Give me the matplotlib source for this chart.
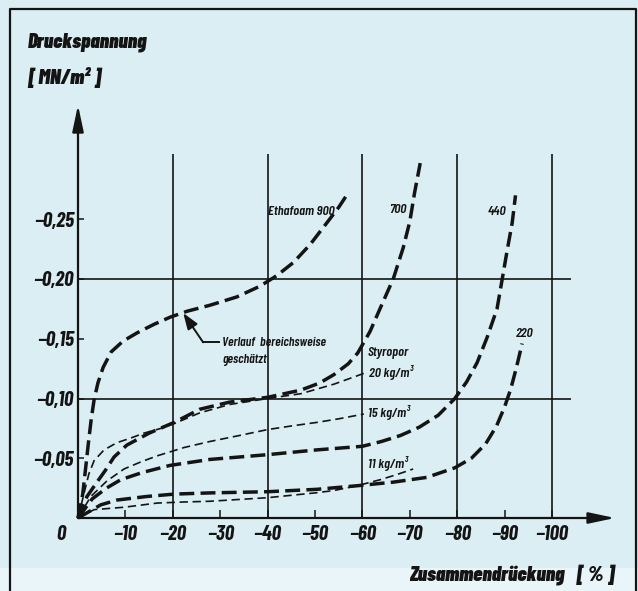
import matplotlib
matplotlib.use('Agg')
import matplotlib.pyplot as plt
from matplotlib import font_manager

# ---------------- data ----------------
x_ticks = [-10, -20, -30, -40, -50, -60, -70, -80, -90, -100]
x_tick_labels = ['−10', '−20', '−30', '−40', '−50', '−60', '−70', '−80', '−90', '−100']
y_ticks = [-0.05, -0.10, -0.15, -0.20, -0.25]
y_tick_labels = ['−0,05', '−0,10', '−0,15', '−0,20', '−0,25']
grid_x = [-20, -40, -60, -80, -100]
grid_y = [-0.10, -0.20]

# Ethafoam 900
eth_x = [0, -1.0, -1.7, -2.2, -2.8, -3.4, -4.2, -5.3, -7.0, -9.5, -12.5, -16.0, -19.4, -23.0,
         -27.8, -33.5, -38.4, -42.0, -45.5, -49.0, -52.5, -55.0, -57.0]
eth_y = [0, -0.020, -0.045, -0.063, -0.083, -0.099, -0.113, -0.126, -0.139, -0.148, -0.155,
         -0.162, -0.168, -0.173, -0.178, -0.185, -0.194, -0.203, -0.214, -0.229, -0.247, -0.260, -0.272]
# Ethafoam 700
e700_x = [0, -1.9, -4.0, -5.8, -7.6, -10.3, -15.0, -20.3, -25.7, -32.0, -40.0, -47.0, -51.0,
          -54.0, -57.0, -59.0, -61.6, -63.7, -66.5, -68.6, -70.0, -71.0, -72.2]
e700_y = [0, -0.018, -0.030, -0.040, -0.051, -0.061, -0.071, -0.080, -0.091, -0.097, -0.101,
          -0.107, -0.113, -0.120, -0.129, -0.138, -0.156, -0.175, -0.200, -0.226, -0.248, -0.272, -0.297]
# Ethafoam 440
e440_x = [0, -3.0, -6.0, -9.0, -13.5, -19.4, -27.8, -40.0, -50.4, -60.0, -64.0, -68.0, -72.0,
          -76.0, -79.5, -82.0, -84.2, -86.3, -88.4, -89.5, -90.5, -91.6, -92.3]
e440_y = [0, -0.016, -0.025, -0.032, -0.038, -0.044, -0.049, -0.053, -0.057, -0.060, -0.064,
          -0.069, -0.076, -0.086, -0.100, -0.114, -0.130, -0.151, -0.175, -0.200, -0.223, -0.247, -0.270]
# Ethafoam 220
e220_x = [0, -4.8, -8.2, -14.5, -20.3, -27.8, -40.0, -50.4, -58.9, -66.5, -73.6, -79.5, -83.0,
          -86.0, -88.3, -90.0, -91.3, -92.5, -93.7]
e220_y = [0, -0.011, -0.015, -0.018, -0.020, -0.021, -0.022, -0.024, -0.027, -0.030, -0.034,
          -0.042, -0.050, -0.062, -0.077, -0.093, -0.108, -0.126, -0.146]
# Styropor 20 kg/m3
s20_x = [0, -1.3, -2.3, -3.4, -5.5, -8.2, -11.2, -13.9, -17.5, -20.3, -25.7, -32.0, -40.0,
         -47.0, -54.0, -60.3]
s20_y = [0, -0.021, -0.037, -0.048, -0.057, -0.063, -0.067, -0.071, -0.075, -0.079, -0.088,
         -0.095, -0.100, -0.104, -0.112, -0.121]
# Styropor 15 kg/m3
s15_x = [0, -2.7, -6.1, -9.7, -13.3, -16.7, -22.4, -27.8, -34.0, -40.0, -45.0, -50.4, -55.0, -60.3]
s15_y = [0, -0.018, -0.031, -0.041, -0.047, -0.052, -0.059, -0.064, -0.069, -0.074, -0.077,
         -0.080, -0.083, -0.087]
# Styropor 11 kg/m3
s11_x = [0, -3.4, -9.7, -16.7, -22.4, -27.8, -40.0, -50.0, -54.0, -58.9, -63.7, -67.0, -70.7]
s11_y = [0, -0.007, -0.009, -0.0125, -0.0134, -0.014, -0.017, -0.021, -0.023, -0.027, -0.032,
         -0.036, -0.041]

curve_labels = ['Ethafoam 900', '700', '440', '220']
styro_labels = ['Styropor', '20 kg/m³', '15 kg/m³', '11 kg/m³']
note_lines = ['Verlauf  bereichsweise', 'geschätzt']
y_title = ['Druckspannung', '[ MN/m² ]']
x_title = 'Zusammendrückung   [ % ]'

# ---------------- style ----------------
INK = '#141414'
BG = '#daeef3'
BAND = '#e9f5f8'


def pick_family():
    for name in ['Barlow Condensed', 'Asap Condensed', 'Archivo Narrow']:
        try:
            font_manager.findfont(font_manager.FontProperties(family=name),
                                  fallback_to_default=False)
            return [name, 'DejaVu Sans']
        except Exception:
            pass
    return ['DejaVu Sans']


FAM = pick_family()
plt.rcParams['font.family'] = FAM

W, H = 638, 591
PX0, PY0 = 78, 518
SX, SY = 4.74, 1195.0

fig = plt.figure(figsize=(W / 100, H / 100), dpi=100)
fig.patch.set_facecolor(BG)
ax = fig.add_axes([0, 0, 1, 1])
ax.set_facecolor(BG)
ax.set_xlim(PX0 / SX, -(W - PX0) / SX)
ax.set_ylim((H - PY0) / SY, -PY0 / SY)

# lighter band at the bottom and the frame
ax.axhspan((568 - PY0) / SY, (H - PY0) / SY, color=BAND, zorder=0, lw=0)
ax.plot([10 / W, 10 / W, 636 / W, 636 / W], [0, 1 - 9 / H, 1 - 9 / H, 0],
        transform=ax.transAxes, color=INK, lw=1.6, clip_on=False, zorder=5)

for s in ax.spines.values():
    s.set_visible(False)
ax.spines['left'].set_position(('data', 0))
ax.spines['bottom'].set_position(('data', 0))

tick_font = dict(family=FAM, style='italic', weight='bold', size=15)
ax.set_xticks(x_ticks)
ax.set_xticklabels(x_tick_labels, **tick_font)
ax.set_yticks(y_ticks)
ax.set_yticklabels(y_tick_labels, **tick_font)
ax.tick_params(axis='x', direction='in', length=5.5, width=1.1, pad=5, color=INK, labelcolor=INK)
ax.tick_params(axis='y', direction='in', length=4.5, width=1.1, pad=3, color=INK, labelcolor=INK)
ax.text(3.7, 0.0060, '0', ha='center', va='top', color=INK, **tick_font)

# axes with arrows
arr = dict(arrowstyle='-|>,head_length=0.8,head_width=0.17', mutation_scale=20, lw=1.6,
           color=INK, shrinkA=0, shrinkB=0)
ax.annotate('', xy=(-113.3, 0), xytext=(0, 0), arrowprops=arr)
ax.annotate('', xy=(0, -0.3456), xytext=(0, 0), arrowprops=arr)

# grid lines
ax.vlines(grid_x, 0, -0.305, color=INK, lw=1.2, zorder=2)
ax.hlines(grid_y, 0, -104, color=INK, lw=1.2, zorder=2)

thick = dict(color=INK, lw=2.5, dashes=(4.3, 1.8), dash_capstyle='butt', zorder=3)
thin = dict(color=INK, lw=1.2, dashes=(5.0, 2.8), dash_capstyle='butt', zorder=3)
ax.plot(eth_x, eth_y, **thick)
ax.plot(e700_x, e700_y, **thick)
ax.plot(e440_x, e440_y, **thick)
ax.plot(e220_x, e220_y, **thick)
ax.plot(s20_x, s20_y, **thin)
ax.plot(s15_x, s15_y, **thin)
ax.plot(s11_x, s11_y, **thin)

lab = dict(family=FAM, style='italic', weight='semibold', size=10, color=INK)
ax.text(-40.0, -0.256, curve_labels[0], ha='left', va='center', **lab)
ax.text(-67.5, -0.258, curve_labels[1], ha='center', va='center', **lab)
ax.text(-88.4, -0.256, curve_labels[2], ha='center', va='center', **lab)
ax.text(-94.2, -0.154, curve_labels[3], ha='center', va='center', **lab)

slab = dict(family=FAM, style='italic', weight='semibold', size=10, color=INK)
ax.text(-61.0, -0.138, styro_labels[0], ha='left', va='center', **slab)
ax.text(-61.4, -0.122, styro_labels[1], ha='left', va='center', **slab)
ax.text(-61.2, -0.088, styro_labels[2], ha='left', va='center', **slab)
ax.text(-61.2, -0.046, styro_labels[3], ha='left', va='center', **slab)

# annotation
ax.plot([-26.4, -29.8], [-0.147, -0.147], color=INK, lw=1.4, zorder=3)
ax.annotate('', xy=(-22.2, -0.1715), xytext=(-26.4, -0.147),
            arrowprops=dict(arrowstyle='-|>,head_length=0.7,head_width=0.25', mutation_scale=14,
                            lw=1.4, color=INK, shrinkA=0, shrinkB=0))
nlab = dict(family=FAM, style='italic', weight='semibold', size=9.5, color=INK)
ax.text(-30.4, -0.1465, note_lines[0], ha='left', va='center', **nlab)
ax.text(-30.4, -0.132, note_lines[1], ha='left', va='center', **nlab)

# axis titles
tfont = dict(family=FAM, style='italic', weight='black', size=15, color=INK)
ax.text(28 / W, 1 - 42 / H, y_title[0], transform=ax.transAxes, ha='left', va='center', **tfont)
ax.text(27 / W, 1 - 78 / H, y_title[1], transform=ax.transAxes, ha='left', va='center', **tfont)
ax.text(615 / W, 1 - 575 / H, x_title, transform=ax.transAxes, ha='right', va='center', **tfont)

fig.savefig('out.png', dpi=100, facecolor=BG)
